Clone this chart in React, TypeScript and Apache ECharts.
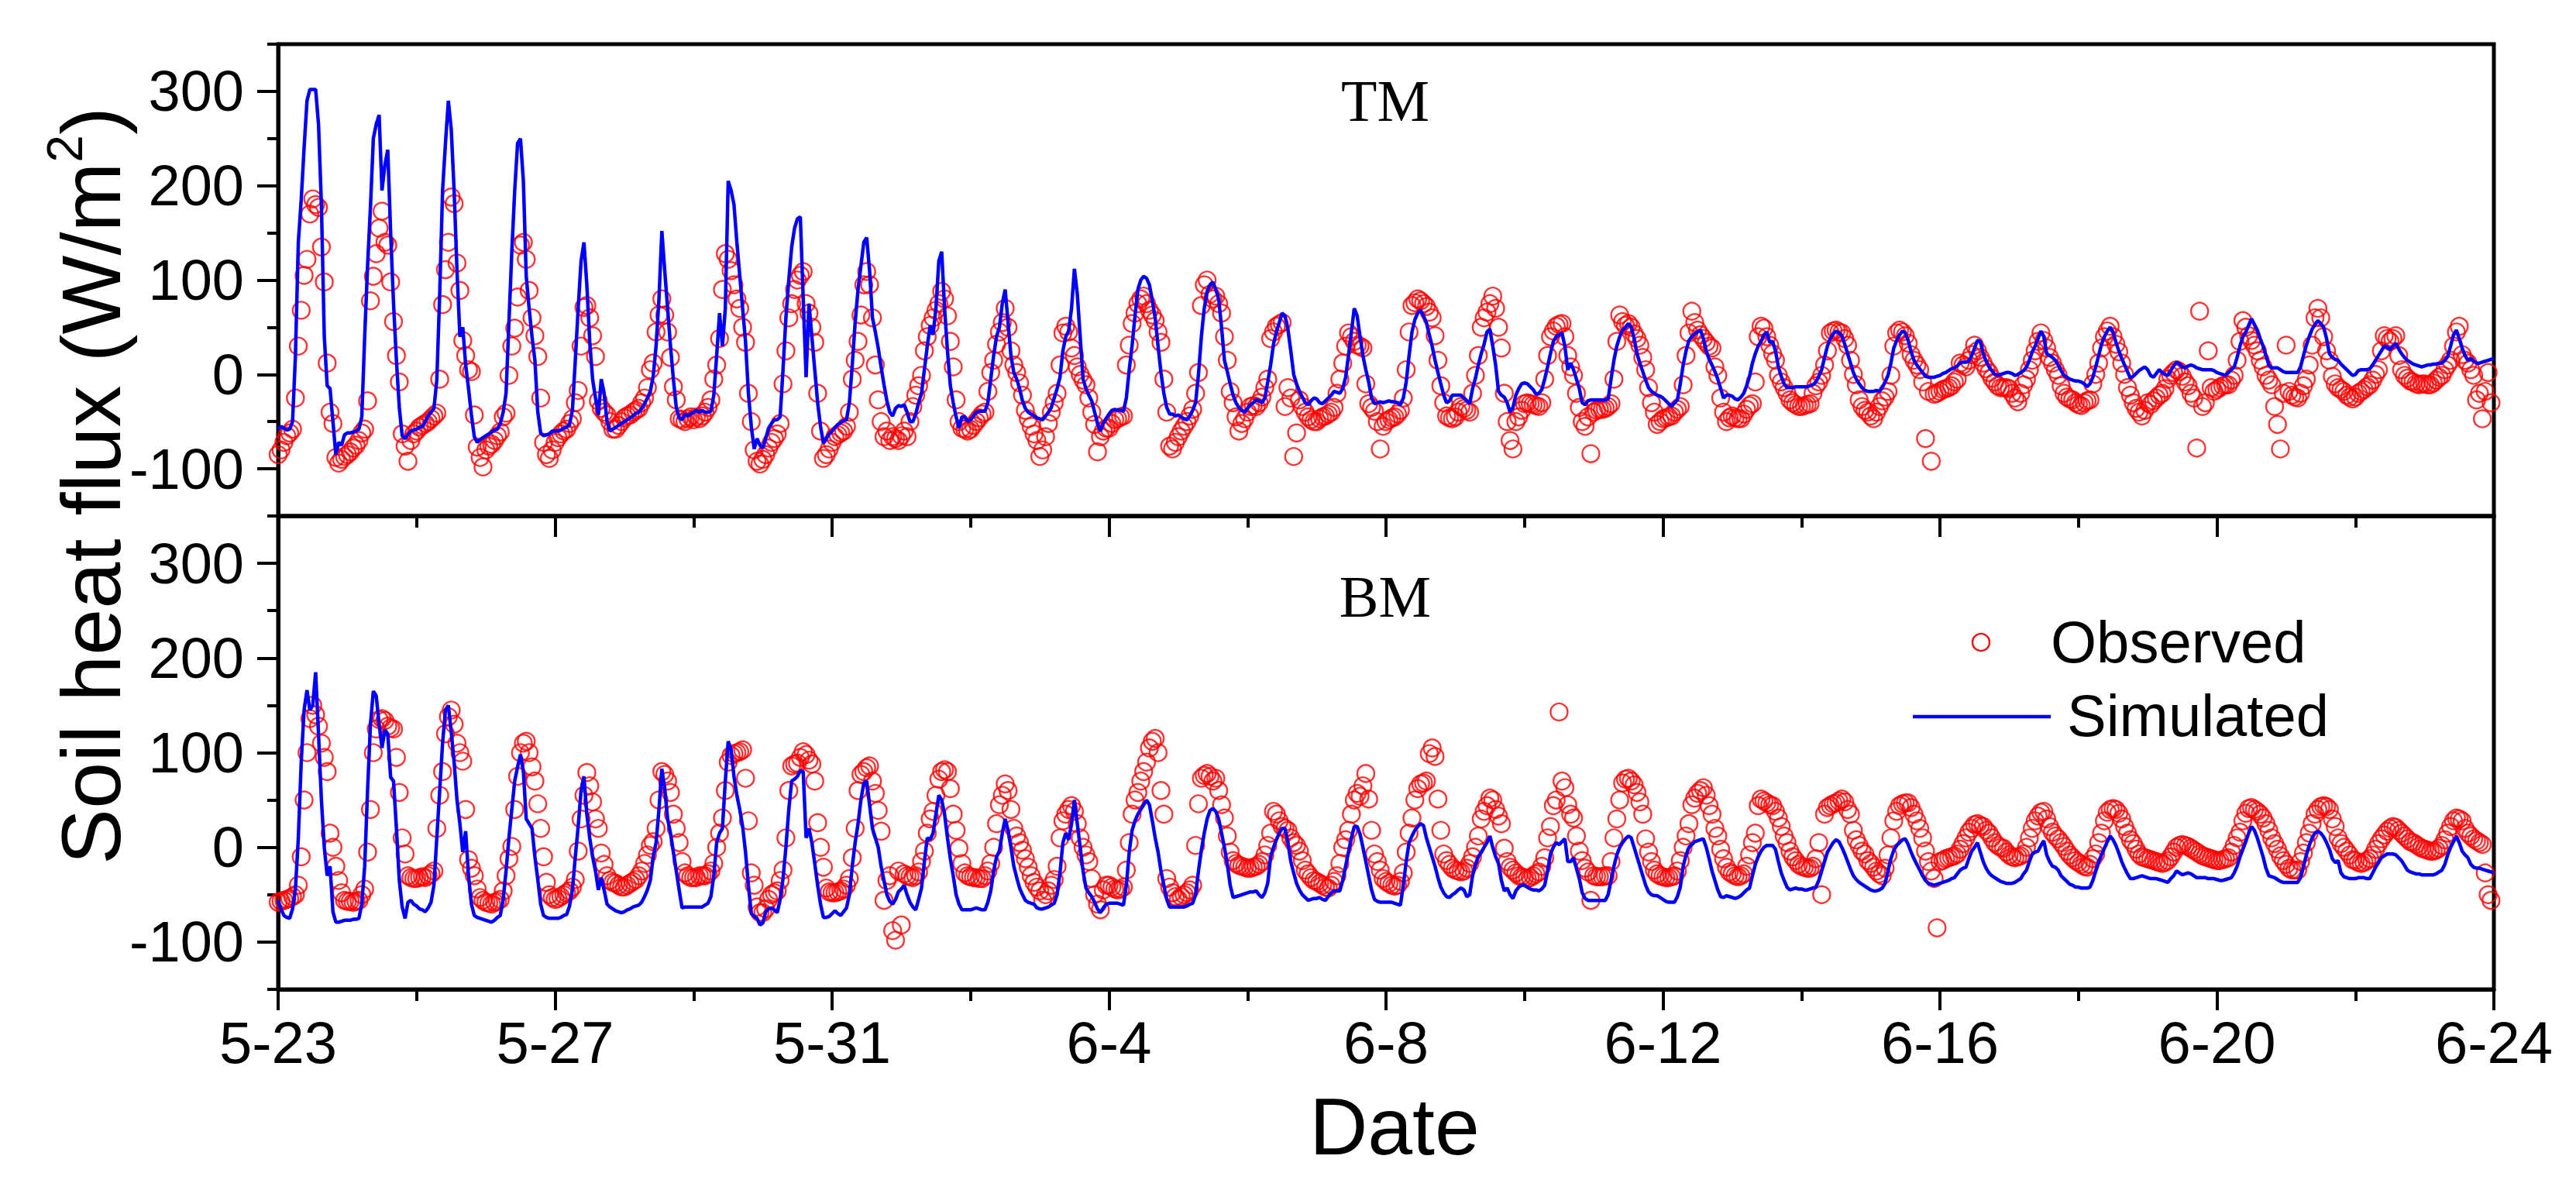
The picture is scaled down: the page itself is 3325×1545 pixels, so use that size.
import React, { useEffect, useRef } from "react";
import * as echarts from "echarts";

// x axis: days since 5-23 00:00, hourly samples (24 per day)
const dateLabels = ["5-23", "5-27", "5-31", "6-4", "6-8", "6-12", "6-16", "6-20", "6-24"];
const yLabelValues = [-100, 0, 100, 200, 300];
const panelNames = ["TM", "BM"];
const hoursPerDay = 24;

// TM simulated (W/m2), one row per day 5-23 ... 6-23, last value = 6-24 00:00
const tmSimulated = [
  -58,-55,-57,-59,-58,-50,20,140,185,240,290,302,302,302,265,180,40,-12,-15,-50,-85,-72,-75,-64,
  -62,-62,-61,-60,-58,-45,40,115,177,250,265,275,195,222,238,150,75,15,-35,-65,-68,-64,-60,-59,
  -58,-56,-55,-50,-44,-40,-36,-6,85,195,245,290,260,195,110,40,50,10,-15,-43,-66,-72,-69,-67,
  -65,-63,-61,-59,-58,-52,-40,-20,55,130,195,245,250,205,104,70,40,15,-40,-62,-65,-64,-63,-60,
  -60,-60,-59,-57,-56,-53,-38,15,70,120,140,95,35,-5,-25,-43,-5,-20,-50,-60,-58,-56,-54,-52,
  -50,-48,-46,-44,-41,-40,-36,-31,-25,-18,-2,30,80,152,110,70,30,-5,-35,-46,-48,-42,-44,-42,
  -40,-38,-40,-38,-40,-40,-39,-22,20,65,30,70,205,195,180,140,105,70,35,-20,-55,-79,-68,-75,
  -78,-68,-57,-52,-48,-48,-45,5,60,100,135,155,165,167,80,-3,75,40,5,-30,-55,-73,-68,-63,
  -60,-56,-53,-51,-49,-48,-30,10,55,90,115,140,145,110,60,45,28,8,-11,-28,-40,-44,-36,-33,
  -34,-32,-40,-50,-50,-42,-30,-20,5,30,52,42,70,120,130,70,25,-12,-30,-45,-57,-45,-45,-50,
  -48,-44,-40,-39,-39,-39,-30,-5,20,40,50,75,90,55,20,2,-5,-15,-28,-36,-40,-42,-44,-46,
  -47,-48,-44,-40,-35,-25,-15,-3,25,40,46,70,112,85,40,-5,-15,-22,-28,-40,-52,-60,-52,-47,
  -42,-38,-37,-38,-38,-39,-25,5,31,62,90,100,104,102,95,78,60,30,2,-20,-35,-42,-42,-44,
  -43,-45,-47,-48,-44,-38,-30,0,40,70,88,95,98,90,80,50,15,3,-10,-22,-30,-35,-38,-40,
  -36,-32,-30,-27,-28,-30,-25,-8,10,32,45,55,65,62,48,25,0,-10,-18,-24,-30,-32,-28,-25,
  -26,-30,-31,-28,-25,-22,-18,-19,-20,-15,-3,20,45,70,62,40,20,5,-8,-25,-31,-30,-29,-30,
  -29,-28,-29,-29,-30,-32,-25,-8,20,45,58,65,68,62,55,42,30,15,2,-10,-22,-30,-28,-22,
  -22,-22,-22,-25,-28,-31,-15,-4,10,22,32,45,48,30,10,-18,-22,-24,-30,-40,-35,-22,-15,-10,
  -9,-10,-13,-16,-21,-20,-16,-5,8,22,35,40,42,44,30,5,12,5,-5,-15,-30,-32,-28,-27,
  -27,-27,-27,-27,-27,-26,-5,15,30,40,47,50,54,50,38,22,12,3,-6,-14,-18,-20,-22,-23,
  -25,-28,-31,-34,-30,-27,-10,10,25,36,40,43,45,47,38,25,16,10,3,-5,-15,-25,-22,-22,
  -23,-26,-27,-24,-20,-12,-2,12,22,30,35,42,45,34,35,25,8,-2,-10,-14,-14,-14,-13,-13,
  -13,-13,-13,-12,-11,-8,-2,5,18,30,38,43,46,44,41,32,22,12,2,-5,-10,-14,-17,-18,
  -18,-18,-17,-18,-14,-8,-1,12,28,36,42,46,44,36,24,15,10,6,2,-2,-3,-3,-3,-2,
  -1,1,2,4,6,7,9,12,13,13,14,20,28,36,35,22,14,8,4,0,-1,0,1,2,
  2,1,-1,0,2,4,8,15,24,30,38,46,40,22,20,18,15,10,4,-1,-3,-5,-6,-7,
  -7,-8,-10,-13,-10,-3,8,20,32,40,46,50,45,34,25,17,10,3,-4,-2,1,4,6,8,
  5,-1,-3,1,5,2,0,-1,4,9,13,11,8,7,9,10,9,7,6,5,5,5,5,4,
  2,1,0,-1,2,5,8,18,30,40,45,52,59,53,47,38,30,20,10,7,7,7,5,3,
  2,2,2,2,2,8,20,31,40,48,53,57,54,50,38,22,18,16,15,11,8,5,2,-1,
  0,4,5,5,5,6,10,15,20,25,30,29,26,30,33,27,22,18,15,13,11,10,9,8,
  9,10,10,11,11,12,12,15,19,30,42,47,38,28,20,15,17,14,12,12,13,14,15,16,
  17,
];

// TM observed (W/m2), hourly
const tmObserved = [
  -85,-80,-72,-65,-62,-58,-25,30,68,105,122,170,186,180,177,135,98,12,-40,-52,-88,-94,-90,-87,
  -85,-82,-78,-75,-70,-62,-58,-28,78,104,128,155,173,140,137,98,56,20,-8,-63,-76,-92,-70,-63,
  -60,-56,-54,-52,-50,-47,-44,-41,-5,74,111,140,188,181,118,89,36,20,5,3,-43,-77,-88,-98,
  -80,-76,-74,-70,-65,-61,-45,-41,-1,30,49,82,137,140,122,89,60,41,19,-25,-72,-85,-89,-80,
  -72,-67,-63,-60,-58,-52,-47,-30,-17,30,71,73,60,41,19,-28,-36,-40,-43,-50,-58,-58,-54,-50,
  -46,-44,-43,-40,-38,-36,-30,-25,-14,5,12,45,63,80,63,45,18,-13,-27,-47,-48,-50,-47,-45,
  -48,-45,-47,-44,-40,-35,-27,-5,10,38,90,128,122,110,95,80,70,50,34,-20,-50,-80,-92,-95,
  -90,-85,-78,-72,-68,-63,-52,-10,25,60,75,90,100,105,109,75,65,50,34,-20,-60,-89,-85,-79,
  -72,-66,-64,-62,-60,-55,-40,-5,15,35,63,95,109,95,60,10,-27,-50,-66,-60,-70,-66,-68,-70,
  -65,-60,-66,-50,-34,-22,-12,-1,25,40,52,60,68,75,88,80,62,35,8,-27,-50,-57,-58,-60,
  -58,-54,-50,-46,-42,-40,-18,2,15,32,45,55,70,50,25,10,2,-9,-22,-38,-47,-55,-63,-70,
  -87,-80,-66,-52,-40,-30,-20,10,44,51,45,28,20,8,0,-6,-11,-25,-40,-53,-82,-66,-60,-57,
  -57,-52,-48,-47,-45,-44,10,31,54,65,75,80,83,75,68,63,57,45,34,-5,-40,-76,-79,-72,
  -66,-60,-55,-50,-44,-37,-20,2,73,95,100,85,80,83,75,65,40,15,-18,-30,-45,-60,-52,-47,
  -40,-34,-33,-34,-30,-24,-14,-5,38,45,51,53,55,-34,-14,-25,-87,-62,-27,-34,-40,-45,-48,-50,
  -50,-47,-45,-44,-42,-40,-35,-20,-5,12,30,44,40,35,31,30,28,-10,-31,-35,-39,-50,-79,-55,
  -50,-48,-46,-45,-42,-38,-25,5,45,73,76,80,78,75,72,66,60,41,15,-12,-30,-44,-46,-47,
  -45,-40,-34,-36,-38,-40,-20,-1,20,50,60,66,75,83,70,50,28,-20,-50,-70,-79,-50,-45,-38,
  -31,-30,-31,-32,-33,-34,-30,-5,20,40,46,51,53,54,40,20,8,-1,-20,-35,-50,-55,-45,-84,
  -40,-38,-37,-37,-36,-34,-31,-5,35,63,56,52,54,50,43,38,31,18,5,-14,-30,-40,-53,-50,
  -47,-46,-45,-44,-40,-37,-34,-11,20,44,67,55,47,42,38,34,30,28,8,-1,-25,-40,-50,-46,
  -44,-46,-47,-47,-42,-37,-33,-31,-8,40,51,49,40,31,22,15,-1,-8,-14,-20,-27,-30,-32,-34,
  -34,-33,-32,-31,-20,-12,-8,-1,10,25,44,46,47,45,44,38,31,15,0,-11,-27,-34,-38,-40,
  -44,-47,-40,-34,-28,-24,-18,-1,30,44,47,45,41,33,21,15,10,5,-8,-68,-18,-92,-21,-20,
  -18,-16,-15,-14,-12,-8,-5,12,10,8,15,21,31,25,18,12,6,2,-4,-8,-12,-14,-14,-14,
  -15,-20,-25,-29,-20,-11,-5,5,15,25,35,44,36,28,18,12,5,-1,-12,-20,-24,-26,-27,-30,
  -32,-33,-30,-28,-27,-10,0,12,28,40,46,51,40,32,24,12,0,-14,-22,-30,-36,-40,-44,-38,
  -30,-32,-28,-25,-22,-20,-15,-5,-1,2,5,3,-2,-8,-12,-20,-25,-78,67,-34,-30,25,-14,-18,
  -16,-14,-12,-11,-11,-6,-1,15,35,57,50,41,36,31,25,15,8,-1,-6,-11,-34,-53,-79,-20,
  31,-18,-22,-24,-25,-20,-12,-5,10,31,60,70,60,40,25,15,-2,-10,-14,-16,-18,-22,-24,-26,
  -24,-20,-18,-16,-13,-11,-6,0,5,25,41,38,35,38,41,20,5,-1,-4,-7,-8,-10,-11,-10,
  -10,-11,-11,-9,-6,-3,-1,5,10,15,30,45,51,21,15,12,5,-1,-27,-20,-47,-18,2,-30,
];

// BM simulated (W/m2), hourly, last value = 6-24 00:00
const bmSimulated = [
  -56,-65,-72,-74,-75,-65,-44,10,90,145,166,145,150,185,120,50,0,-30,-20,-68,-79,-79,-78,-77,
  -77,-77,-76,-76,-75,-60,-20,60,130,165,160,130,105,124,120,74,70,20,-35,-63,-75,-58,-56,-60,
  -62,-65,-66,-68,-64,-58,-40,10,60,110,145,150,122,90,50,25,-5,17,-30,-60,-72,-74,-75,-76,
  -77,-78,-79,-77,-74,-72,-55,-25,10,40,70,85,98,80,30,25,20,-10,-34,-60,-72,-74,-75,-75,
  -75,-75,-74,-72,-71,-62,-45,-10,22,60,75,35,10,-10,-25,-45,-32,-45,-60,-63,-65,-67,-68,-69,
  -68,-66,-65,-63,-62,-61,-58,-52,-45,-35,-10,5,40,83,62,30,15,-5,-25,-45,-64,-63,-63,-63,
  -63,-63,-63,-63,-61,-59,-52,-30,5,15,20,70,112,103,75,55,40,22,-5,-40,-70,-73,-75,-82,
  -80,-68,-65,-64,-66,-69,-55,-33,0,40,70,72,75,81,80,10,20,5,-17,-40,-60,-74,-74,-73,
  -70,-67,-70,-72,-68,-64,-50,-20,5,25,50,68,70,45,20,10,0,-20,-35,-50,-57,-60,-55,-47,
  -44,-40,-50,-58,-63,-66,-55,-43,-15,10,8,15,35,55,50,35,10,-12,-30,-50,-60,-66,-66,-66,
  -66,-65,-64,-65,-66,-66,-58,-46,-25,-10,-4,15,30,18,0,-20,-32,-43,-50,-56,-58,-59,-60,-64,
  -65,-65,-64,-63,-61,-59,-50,-27,5,15,8,25,50,25,0,-25,-43,-48,-52,-58,-65,-69,-64,-60,
  -59,-59,-59,-59,-60,-61,-40,-5,18,28,35,40,45,50,45,28,10,-5,-25,-40,-55,-63,-63,-63,
  -63,-63,-63,-62,-60,-59,-50,-25,-3,15,30,39,41,38,30,15,0,-18,-40,-53,-52,-51,-50,-49,
  -48,-47,-47,-46,-50,-53,-48,-38,-10,0,8,15,20,20,5,-15,-27,-38,-45,-50,-53,-56,-55,-54,
  -54,-53,-55,-56,-52,-48,-46,-46,-46,-35,-20,-5,10,22,22,14,0,-15,-30,-45,-55,-57,-58,-58,
  -58,-58,-58,-59,-60,-61,-40,-15,5,12,18,22,25,23,10,0,-10,-20,-32,-42,-48,-52,-53,-50,
  -48,-45,-43,-45,-52,-50,-30,-18,-10,-5,0,5,12,0,-10,-17,-35,-46,-43,-50,-54,-46,-42,-40,
  -40,-42,-44,-45,-45,-46,-44,-40,-25,-7,0,5,3,6,9,-15,-15,-11,-22,-33,-48,-54,-56,-56,
  -56,-56,-56,-56,-56,-50,-35,-20,-8,0,5,9,12,10,0,-10,-20,-30,-40,-47,-50,-51,-51,-53,
  -55,-57,-58,-58,-58,-52,-42,-20,-8,0,3,6,7,8,9,0,-12,-25,-35,-45,-52,-53,-51,-52,
  -53,-54,-53,-51,-48,-45,-43,-30,-18,-10,-4,0,2,2,2,-2,-15,-27,-35,-42,-45,-44,-43,-44,
  -44,-45,-45,-44,-43,-42,-35,-25,-15,-5,0,5,8,6,0,-7,-15,-23,-30,-34,-37,-39,-41,-43,
  -45,-46,-46,-45,-43,-38,-25,-12,-3,2,5,8,9,3,-5,-12,-18,-24,-30,-35,-38,-39,-40,-39,
  -38,-37,-36,-35,-33,-32,-28,-24,-22,-21,-12,-4,0,5,-5,-15,-22,-27,-30,-32,-34,-36,-37,-38,
  -38,-38,-37,-35,-33,-28,-24,-15,-7,-5,-4,2,7,-8,-15,-20,-21,-24,-30,-33,-36,-39,-40,-42,
  -42,-43,-43,-43,-42,-35,-25,-15,-8,-1,6,12,8,2,-6,-15,-22,-28,-33,-33,-32,-31,-30,-31,
  -32,-33,-33,-33,-34,-35,-36,-37,-33,-30,-25,-27,-29,-28,-27,-28,-30,-32,-32,-32,-32,-33,-33,-33,
  -34,-35,-35,-34,-33,-32,-27,-20,-10,-2,6,15,22,18,10,0,-10,-22,-30,-31,-32,-34,-36,-37,
  -37,-37,-37,-37,-37,-32,-20,-8,2,10,15,17,15,11,5,-2,-12,-16,-14,-27,-31,-32,-33,-33,
  -33,-32,-32,-32,-33,-33,-27,-21,-16,-11,-9,-7,-7,-7,-8,-11,-14,-19,-24,-26,-27,-28,-28,-29,
  -29,-29,-29,-29,-28,-26,-24,-18,-8,0,6,12,5,-4,-8,-11,-18,-21,-22,-22,-23,-24,-25,-26,
  -27,
];

// BM observed (W/m2), hourly
const bmObserved = [
  -58,-57,-56,-55,-54,-52,-50,-40,-10,50,100,136,150,140,128,110,95,80,15,0,-20,-35,-48,-56,
  -57,-57,-58,-57,-56,-50,-44,-5,40,100,125,135,136,134,128,126,125,95,58,10,-7,-30,-32,-33,
  -33,-32,-31,-32,-30,-28,-25,20,55,80,120,138,145,130,110,100,91,40,-13,-22,-30,-44,-53,-56,
  -58,-59,-60,-58,-57,-55,-46,-30,-12,1,40,75,100,110,112,100,85,70,46,20,-10,-37,-50,-53,
  -55,-54,-52,-50,-48,-46,-42,-34,-4,30,55,79,65,48,30,20,-6,-18,-30,-35,-37,-38,-40,-42,
  -42,-40,-38,-36,-34,-30,-25,-17,-8,2,6,20,50,80,77,70,58,35,20,5,-15,-27,-30,-32,
  -32,-32,-30,-30,-30,-28,-25,-17,0,15,31,60,90,97,99,100,101,103,73,28,-27,-40,-63,-69,
  -69,-65,-55,-50,-48,-46,-35,-24,10,60,86,88,89,95,101,98,92,88,70,26,0,-21,-43,-47,
  -48,-48,-47,-46,-44,-40,-33,-11,20,60,77,80,84,86,70,57,39,17,-56,-35,-30,-88,-98,-25,
  -82,-28,-30,-31,-32,-30,-26,-15,-4,15,30,38,55,72,80,82,80,62,35,18,-1,-17,-27,-30,
  -31,-32,-32,-33,-33,-30,-25,-17,0,25,45,55,67,60,40,20,12,5,-3,-12,-21,-30,-37,-42,
  -46,-56,-50,-46,-40,-34,-20,10,28,35,40,44,38,25,10,0,-8,-15,-33,-50,-60,-66,-45,-40,
  -40,-42,-44,-45,-44,-42,-24,5,35,50,58,70,80,90,105,112,115,100,60,35,-33,-42,-48,-52,
  -55,-52,-50,-48,-45,-40,2,46,73,76,78,75,70,73,60,45,31,12,-5,-14,-17,-19,-20,-21,
  -22,-22,-21,-20,-18,-15,-8,2,15,38,35,28,22,20,18,10,5,2,-4,-14,-24,-28,-32,-35,
  -36,-38,-40,-42,-43,-40,-36,-30,-17,0,8,18,35,50,57,54,65,78,51,18,-7,-15,-24,-33,
  -36,-38,-40,-41,-40,-36,-27,-5,15,31,50,62,67,68,70,99,105,96,51,18,-7,-14,-18,-22,
  -24,-25,-26,-25,-22,-17,-10,0,12,30,38,44,52,50,40,33,25,-1,-15,-21,-24,-27,-30,-31,
  -32,-33,-32,-30,-28,-26,-20,-11,10,22,44,50,143,70,63,45,35,31,12,-4,-14,-22,-26,-56,
  -30,-31,-31,-31,-30,-30,-15,10,30,50,68,72,73,70,66,58,48,35,9,-5,-15,-24,-28,-30,
  -31,-32,-32,-31,-30,-25,-14,0,12,25,45,52,57,60,63,55,44,35,20,12,-2,-12,-21,-26,
  -28,-30,-31,-30,-28,-20,-8,5,15,44,51,49,47,45,44,38,31,22,12,5,-4,-10,-14,-18,
  -20,-21,-22,-22,-20,-12,5,-50,35,42,44,46,47,49,51,48,40,35,18,8,2,-4,-7,-14,
  -17,-21,-25,-28,-30,-22,-8,10,28,38,44,46,47,47,42,35,28,20,10,-4,-15,-25,-33,-85,
  -15,-14,-12,-11,-10,-9,-7,-2,4,10,16,20,24,25,23,22,18,15,10,5,2,0,-1,-5,
  -8,-10,-11,-10,-9,-7,0,10,20,28,33,37,38,30,22,16,12,9,5,1,-4,-8,-11,-14,
  -16,-18,-20,-21,-18,-12,-7,5,15,28,37,40,41,40,36,30,22,15,8,4,-2,-7,-10,-11,
  -12,-13,-14,-15,-16,-17,-16,-14,-10,-5,0,2,3,2,1,-1,-3,-5,-7,-9,-10,-11,-12,-13,
  -14,-14,-13,-12,-11,-5,2,10,16,28,36,41,42,40,38,35,31,25,18,10,4,-2,-9,-14,
  -18,-22,-24,-24,-24,-15,-6,5,15,25,35,40,43,44,43,40,30,22,10,4,0,-4,-8,-13,
  -14,-16,-17,-16,-14,-12,-8,-2,4,9,13,17,20,22,21,18,15,12,9,6,5,3,1,-1,
  -2,-3,-4,-4,-3,-1,2,8,15,22,28,31,30,28,20,15,12,9,7,5,3,-27,-50,-56,
];

const toPairs = (values: number[]) => values.map((v, i) => [i / hoursPerDay, v]);

const W = 3325;
const H = 1545;
const PLOT_LEFT = 359;
const PLOT_WIDTH = 2860;
const panels = [
  { top: 57, height: 609 },
  { top: 666, height: 611 },
];
const FONT = "Liberation Sans";
const SERIF = "Liberation Serif";

function buildOption() {
  const grid: any[] = [];
  panels.forEach((p) =>
    grid.push({
      left: PLOT_LEFT, width: PLOT_WIDTH, top: p.top, height: p.height,
      show: true, borderColor: "#000", borderWidth: 5, backgroundColor: "rgba(0,0,0,0)",
    })
  );
  // auxiliary grids spanning -100..300 for the major ticks and labels
  panels.forEach((p) => {
    const unit = p.height / 500;
    grid.push({ left: PLOT_LEFT, width: PLOT_WIDTH, top: p.top + 50 * unit, height: 400 * unit, show: false });
  });

  const xAxis: any[] = [0, 1].map((i) => ({
    type: "value", gridIndex: i, min: 0, max: 32, interval: 4,
    axisLine: { show: true, onZero: false, lineStyle: { color: "#000", width: 5 } },
    axisTick: { show: true, inside: false, length: 27, lineStyle: { color: "#000", width: 4 } },
    minorTick: { show: true, splitNumber: 2, length: 15, lineStyle: { color: "#000", width: 4 } },
    splitLine: { show: false }, minorSplitLine: { show: false },
    axisLabel: {
      show: i === 1, margin: 30, fontSize: 76, fontFamily: FONT, color: "#000",
      showMinLabel: true, showMaxLabel: true,
      formatter: (v: number) => dateLabels[Math.round(v / 4)] ?? "",
    },
  }));
  [2, 3].forEach((g) => xAxis.push({ type: "value", gridIndex: g, min: 0, max: 32, show: false }));

  const yAxis: any[] = [0, 1].map((i) => ({
    type: "value", gridIndex: i, min: -150, max: 350, interval: 100,
    axisLine: { show: true, onZero: false, lineStyle: { color: "#000", width: 5 } },
    axisTick: { show: true, inside: false, length: 14, lineStyle: { color: "#000", width: 4 } },
    axisLabel: { show: false }, splitLine: { show: false },
  }));
  [2, 3].forEach((g) =>
    yAxis.push({
      type: "value", gridIndex: g, min: -100, max: 300, interval: 100,
      axisLine: { show: false, onZero: false },
      axisTick: { show: true, inside: false, length: 27, lineStyle: { color: "#000", width: 4 } },
      axisLabel: {
        show: true, margin: 44, fontSize: 74, fontFamily: FONT, color: "#000",
        showMinLabel: true, showMaxLabel: true,
        formatter: (v: number) => (yLabelValues.includes(v) ? String(v) : ""),
      },
      splitLine: { show: false },
    })
  );

  const scatter = (data: number[], idx: number) => ({
    type: "scatter", xAxisIndex: idx, yAxisIndex: idx, data: toPairs(data),
    symbol: "circle", symbolSize: 22, silent: true, z: 2,
    itemStyle: { color: "rgba(0,0,0,0)", borderColor: "#ff0000", borderWidth: 2.4 },
  });
  const line = (data: number[], idx: number) => ({
    type: "line", xAxisIndex: idx, yAxisIndex: idx, data: toPairs(data),
    showSymbol: false, silent: true, z: 3,
    lineStyle: { color: "#0000ff", width: 4.5 },
  });

  const txt = (text: string, x: number, y: number, size: number, family: string, align = "center") => ({
    type: "text", x, y, silent: true,
    style: {
      text, fontSize: size, fontFamily: family, fill: "#000",
      align, verticalAlign: "middle", textAlign: align, textVerticalAlign: "middle",
    },
  });

  const graphic: any[] = [
    txt(panelNames[0], 1788, 130, 76, SERIF),
    txt(panelNames[1], 1788, 770, 76, SERIF),
    txt("Date", 1800, 1454, 104, FONT),
    {
      type: "text", x: 117, y: 627, rotation: Math.PI / 2, silent: true,
      style: {
        text: "{a|Soil heat flux (W/m}{b|2}{a|)}",
        align: "center", verticalAlign: "middle", textAlign: "center", textVerticalAlign: "middle",
        fill: "#000",
        rich: {
          a: { fontSize: 108, fontFamily: FONT, lineHeight: 130, fill: "#000" },
          b: { fontSize: 64, fontFamily: FONT, lineHeight: 58, verticalAlign: "top", fill: "#000" },
        },
      },
    },
    // legend
    { type: "circle", silent: true, shape: { cx: 2557, cy: 829, r: 11 }, style: { fill: "none", stroke: "#ff0000", lineWidth: 2.4 } },
    txt("Observed", 2647, 828, 76, FONT, "left"),
    { type: "line", silent: true, shape: { x1: 2469, y1: 925, x2: 2647, y2: 925 }, style: { stroke: "#0000ff", lineWidth: 4.5 } },
    txt("Simulated", 2668, 923, 76, FONT, "left"),
  ];

  return {
    animation: false,
    backgroundColor: "#ffffff",
    grid, xAxis, yAxis,
    series: [scatter(tmObserved, 0), line(tmSimulated, 0), scatter(bmObserved, 1), line(bmSimulated, 1)],
    graphic,
  };
}

export default function App() {
  const ref = useRef<HTMLDivElement>(null);
  useEffect(() => {
    if (!ref.current) return;
    const chart = echarts.init(ref.current, undefined, { renderer: "svg", width: W, height: H });
    chart.setOption(buildOption() as any);
    return () => chart.dispose();
  }, []);
  return (
    <div
      ref={ref}
      style={{ position: "fixed", left: 0, top: 0, width: W, height: H, background: "#fff" }}
    />
  );
}
